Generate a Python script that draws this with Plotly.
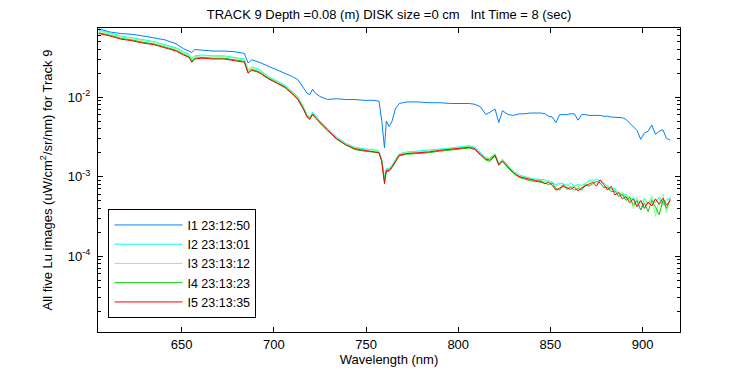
import plotly.graph_objects as go

# Wavelength grid (nm)
wavelength = [
    605, 611, 617, 623, 629, 635, 641, 647, 651, 654,
    655.5, 657, 661, 667, 673, 679, 684, 686, 688, 692,
    697, 702, 706, 710, 713, 716, 718, 719.5, 721, 722.5,
    725, 729, 734, 739, 744, 749, 754, 757, 758.5, 760,
    761, 762.5, 764, 766, 768, 772, 778, 784, 790, 796,
    802, 806, 809, 812, 815, 817, 820, 822, 824, 827,
    830, 833, 836, 839, 842, 845, 847, 849, 851, 853,
    855, 857, 859, 861, 863, 865, 867, 869, 871, 873,
    875, 877, 879, 881, 883, 885, 887, 889, 891, 893,
    895, 897, 899, 901, 903, 905, 907, 909, 911, 913,
    915,
]

lu_i1 = [
    7.24e-2, 6.61e-2, 6.31e-2, 6.17e-2, 5.89e-2, 5.62e-2, 5.25e-2, 4.68e-2, 4.07e-2, 3.80e-2,
    3.63e-2, 3.98e-2, 3.89e-2, 3.80e-2, 3.80e-2, 3.72e-2, 3.55e-2, 2.69e-2, 2.95e-2, 2.75e-2,
    2.45e-2, 2.19e-2, 2.00e-2, 1.82e-2, 1.66e-2, 1.32e-2, 1.12e-2, 1.07e-2, 1.26e-2, 1.12e-2,
    1.02e-2, 9.33e-3, 9.55e-3, 9.33e-3, 9.33e-3, 9.12e-3, 9.12e-3, 8.91e-3, 5.13e-3, 2.29e-3,
    5.01e-3, 4.27e-3, 4.90e-3, 7.24e-3, 8.32e-3, 8.71e-3, 8.71e-3, 8.51e-3, 8.51e-3, 8.32e-3,
    8.32e-3, 8.32e-3, 8.13e-3, 7.59e-3, 6.03e-3, 6.46e-3, 7.08e-3, 4.79e-3, 6.76e-3, 6.03e-3,
    5.89e-3, 6.17e-3, 6.17e-3, 6.31e-3, 6.31e-3, 6.31e-3, 6.17e-3, 5.75e-3, 5.62e-3, 4.79e-3,
    6.03e-3, 6.03e-3, 6.03e-3, 6.17e-3, 6.17e-3, 5.13e-3, 6.03e-3, 6.03e-3, 5.89e-3, 5.89e-3,
    5.89e-3, 5.89e-3, 5.75e-3, 5.75e-3, 5.62e-3, 5.62e-3, 5.62e-3, 5.50e-3, 5.25e-3, 4.68e-3,
    4.27e-3, 3.80e-3, 2.95e-3, 3.55e-3, 3.72e-3, 4.47e-3, 3.39e-3, 3.72e-3, 3.89e-3, 3.02e-3,
    2.88e-3,
]

lu_i2 = [
    6.92e-2, 6.46e-2, 5.89e-2, 5.62e-2, 5.25e-2, 5.01e-2, 4.57e-2, 4.17e-2, 3.72e-2, 3.47e-2,
    3.02e-2, 3.31e-2, 3.39e-2, 3.31e-2, 3.31e-2, 3.16e-2, 3.02e-2, 2.19e-2, 2.40e-2, 2.24e-2,
    1.82e-2, 1.58e-2, 1.41e-2, 1.18e-2, 1.00e-2, 7.59e-3, 6.03e-3, 5.62e-3, 6.46e-3, 5.89e-3,
    5.01e-3, 4.07e-3, 3.16e-3, 2.63e-3, 2.34e-3, 2.24e-3, 2.19e-3, 2.09e-3, 1.66e-3, 9.55e-4,
    1.26e-3, 1.26e-3, 1.38e-3, 1.66e-3, 1.95e-3, 2.04e-3, 2.09e-3, 2.14e-3, 2.24e-3, 2.29e-3,
    2.40e-3, 2.45e-3, 2.34e-3, 2.00e-3, 1.74e-3, 1.70e-3, 1.95e-3, 1.48e-3, 1.66e-3, 1.38e-3,
    1.17e-3, 1.05e-3, 1.00e-3, 9.55e-4, 9.33e-4, 9.12e-4, 9.12e-4, 8.71e-4, 8.51e-4, 7.94e-4,
    8.32e-4, 8.13e-4, 7.59e-4, 8.32e-4, 7.59e-4, 7.94e-4, 7.76e-4, 8.13e-4, 9.12e-4, 8.71e-4,
    9.33e-4, 8.71e-4, 8.32e-4, 7.59e-4, 6.92e-4, 7.08e-4, 6.31e-4, 5.75e-4, 6.03e-4, 5.01e-4,
    5.50e-4, 4.68e-4, 3.80e-4, 5.37e-4, 4.47e-4, 5.25e-4, 4.68e-4, 5.50e-4, 4.37e-4, 5.13e-4,
    5.37e-4,
]

lu_i3 = [
    6.76e-2, 6.31e-2, 5.75e-2, 5.50e-2, 5.13e-2, 4.90e-2, 4.47e-2, 4.07e-2, 3.63e-2, 3.39e-2,
    2.95e-2, 3.24e-2, 3.31e-2, 3.24e-2, 3.24e-2, 3.09e-2, 2.95e-2, 2.14e-2, 2.34e-2, 2.19e-2,
    1.78e-2, 1.55e-2, 1.38e-2, 1.15e-2, 9.77e-3, 7.41e-3, 5.89e-3, 5.50e-3, 6.31e-3, 5.75e-3,
    4.90e-3, 3.98e-3, 3.09e-3, 2.57e-3, 2.29e-3, 2.19e-3, 2.14e-3, 2.04e-3, 1.62e-3, 9.12e-4,
    1.23e-3, 1.23e-3, 1.35e-3, 1.62e-3, 1.91e-3, 2.00e-3, 2.04e-3, 2.09e-3, 2.19e-3, 2.24e-3,
    2.34e-3, 2.40e-3, 2.29e-3, 1.95e-3, 1.70e-3, 1.66e-3, 1.91e-3, 1.45e-3, 1.62e-3, 1.35e-3,
    1.15e-3, 1.02e-3, 9.77e-4, 9.33e-4, 9.12e-4, 8.91e-4, 8.71e-4, 8.91e-4, 8.13e-4, 7.59e-4,
    7.94e-4, 7.41e-4, 8.13e-4, 7.24e-4, 7.76e-4, 7.59e-4, 6.92e-4, 8.32e-4, 8.71e-4, 9.33e-4,
    8.13e-4, 8.91e-4, 7.76e-4, 7.08e-4, 7.24e-4, 6.76e-4, 6.03e-4, 6.46e-4, 5.37e-4, 5.75e-4,
    3.98e-4, 5.50e-4, 4.57e-4, 5.25e-4, 4.37e-4, 5.75e-4, 3.16e-4, 5.01e-4, 6.03e-4, 3.47e-4,
    5.62e-4,
]

lu_i4 = [
    6.46e-2, 6.03e-2, 5.50e-2, 5.25e-2, 4.90e-2, 4.68e-2, 4.27e-2, 3.89e-2, 3.47e-2, 3.24e-2,
    2.82e-2, 3.09e-2, 3.16e-2, 3.09e-2, 3.09e-2, 2.95e-2, 2.82e-2, 2.04e-2, 2.24e-2, 2.09e-2,
    1.74e-2, 1.51e-2, 1.35e-2, 1.12e-2, 9.55e-3, 7.24e-3, 5.75e-3, 5.37e-3, 6.17e-3, 5.62e-3,
    4.68e-3, 3.80e-3, 2.95e-3, 2.51e-3, 2.19e-3, 2.09e-3, 2.04e-3, 2.00e-3, 1.58e-3, 8.71e-4,
    1.17e-3, 1.17e-3, 1.29e-3, 1.55e-3, 1.82e-3, 1.91e-3, 1.95e-3, 2.00e-3, 2.09e-3, 2.14e-3,
    2.24e-3, 2.29e-3, 2.19e-3, 1.86e-3, 1.62e-3, 1.55e-3, 1.82e-3, 1.38e-3, 1.55e-3, 1.29e-3,
    1.10e-3, 9.77e-4, 9.33e-4, 8.91e-4, 8.71e-4, 8.51e-4, 8.32e-4, 7.94e-4, 8.32e-4, 7.08e-4,
    6.76e-4, 7.94e-4, 6.92e-4, 7.41e-4, 6.76e-4, 7.08e-4, 6.76e-4, 7.94e-4, 7.59e-4, 8.13e-4,
    8.71e-4, 8.32e-4, 7.24e-4, 7.41e-4, 6.46e-4, 6.61e-4, 5.62e-4, 6.03e-4, 5.01e-4, 5.50e-4,
    4.37e-4, 5.01e-4, 3.80e-4, 4.68e-4, 3.63e-4, 5.01e-4, 4.17e-4, 3.31e-4, 5.01e-4, 3.98e-4,
    5.25e-4,
]

lu_i5 = [
    6.31e-2, 5.89e-2, 5.37e-2, 5.13e-2, 4.79e-2, 4.57e-2, 4.17e-2, 3.80e-2, 3.39e-2, 3.16e-2,
    2.75e-2, 3.02e-2, 3.09e-2, 3.02e-2, 3.02e-2, 2.88e-2, 2.75e-2, 2.00e-2, 2.19e-2, 2.04e-2,
    1.70e-2, 1.48e-2, 1.32e-2, 1.10e-2, 9.33e-3, 7.08e-3, 5.62e-3, 5.25e-3, 6.03e-3, 5.50e-3,
    4.79e-3, 3.89e-3, 3.02e-3, 2.51e-3, 2.24e-3, 2.14e-3, 2.09e-3, 2.00e-3, 1.55e-3, 8.13e-4,
    1.20e-3, 1.20e-3, 1.32e-3, 1.58e-3, 1.86e-3, 1.95e-3, 2.00e-3, 2.04e-3, 2.14e-3, 2.19e-3,
    2.29e-3, 2.34e-3, 2.24e-3, 1.91e-3, 1.66e-3, 1.62e-3, 1.86e-3, 1.41e-3, 1.58e-3, 1.32e-3,
    1.12e-3, 1.00e-3, 9.55e-4, 9.12e-4, 8.91e-4, 8.71e-4, 8.13e-4, 8.51e-4, 7.76e-4, 6.76e-4,
    7.24e-4, 7.59e-4, 7.24e-4, 6.92e-4, 7.41e-4, 6.61e-4, 7.24e-4, 7.59e-4, 7.94e-4, 8.51e-4,
    7.59e-4, 9.12e-4, 7.94e-4, 6.76e-4, 7.59e-4, 5.89e-4, 6.31e-4, 5.25e-4, 5.62e-4, 4.68e-4,
    5.25e-4, 4.17e-4, 5.01e-4, 3.98e-4, 4.79e-4, 4.27e-4, 5.25e-4, 4.47e-4, 5.37e-4, 4.37e-4,
    5.01e-4,
]

series_names = ["I1 23:12:50", "I2 23:13:01", "I3 23:13:12", "I4 23:13:23", "I5 23:13:35"]
series_colors = ["#0080ff", "#00ffff", "#80ff80", "#00cc00", "#ff0000"]
series_values = [lu_i1, lu_i2, lu_i3, lu_i4, lu_i5]

x_ticks = [650, 700, 750, 800, 850, 900]
y_ticks = [1e-4, 1e-3, 1e-2]
y_ticktext = ["10<sup>-4</sup>", "10<sup>-3</sup>", "10<sup>-2</sup>"]

FONT = "Liberation Sans, Arial, sans-serif"

# The page body adds an 8 px offset; the figure is sized so it fits the window.
W, H = 742, 367

fig = go.Figure()
for name, color, vals in zip(series_names, series_colors, series_values):
    fig.add_trace(go.Scatter(
        x=wavelength, y=vals, mode="lines", name=name,
        line=dict(color=color, width=1),
    ))

fig.update_layout(
    width=W, height=H,
    margin=dict(l=90, r=70, t=20, b=43, autoexpand=False),
    paper_bgcolor="white", plot_bgcolor="white",
    font=dict(family=FONT, size=13, color="black"),
    title=dict(
        text="TRACK 9 Depth =0.08 (m) DISK size =0 cm\u00a0\u00a0\u00a0Int Time = 8 (sec)",
        x=381 / W, xanchor="center", y=1 - 6 / H, yanchor="middle",
        font=dict(family=FONT, size=13, color="black"),
    ),
    showlegend=True,
    legend=dict(
        x=0.018, y=0.045, xanchor="left", yanchor="bottom",
        bordercolor="black", borderwidth=1, bgcolor="white",
        font=dict(family=FONT, size=12.5, color="black"),
        tracegroupgap=0, itemwidth=68,
    ),
)

fig.update_xaxes(
    range=[604.6, 920.3],
    tickvals=x_ticks,
    ticks="inside", ticklen=5, tickcolor="black",
    showline=True, linecolor="black", linewidth=1, mirror="allticks",
    showgrid=False, zeroline=False, automargin=False,
    tickfont=dict(family=FONT, size=13),
    title=dict(text="Wavelength (nm)", font=dict(family=FONT, size=13), standoff=3),
)

fig.update_yaxes(
    type="log",
    range=[-4.955, -1.13],
    tickvals=y_ticks, ticktext=y_ticktext,
    ticks="inside", ticklen=5, tickcolor="black", ticklabelstandoff=4,
    showline=True, linecolor="black", linewidth=1, mirror="allticks",
    showgrid=False, zeroline=False, automargin=False,
    minor=dict(ticks="inside", ticklen=3, tickcolor="black", dtick="D1", showgrid=False),
    tickfont=dict(family=FONT, size=13),
    title=dict(text="All five Lu images (uW/cm<sup>2</sup>/sr/nm) for Track 9",
               font=dict(family=FONT, size=13), standoff=12),
)

fig.write_html("out.html")
